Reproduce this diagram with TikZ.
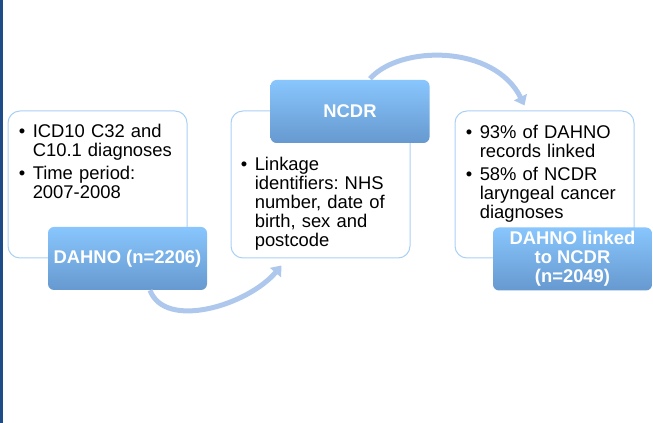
\documentclass[tikz,border=0pt]{standalone}
\usepackage{fontspec}
\setmainfont{Liberation Sans}
\usetikzlibrary{arrows.meta}

\definecolor{boxline}{HTML}{A9D0F5}
\definecolor{labeltop}{HTML}{88C6FD}
\definecolor{labelbottom}{HTML}{6699CF}
\definecolor{arrowblue}{HTML}{ADC8EC}
\definecolor{sideline}{HTML}{1D4C88}

\newcommand\listitem[1]{\leftskip=10.5pt\rightskip=0pt plus 1fil\parindent=0pt
  \noindent\llap{\hbox to 10.5pt{\textbullet\hfil}}#1\par}
\newcommand\itemgap{\vspace{3.5pt}}
\newcommand\listfont{\fontsize{13.8}{14.25}\selectfont\frenchspacing}

\tikzset{
  infobox/.style={draw=boxline, line width=0.75pt, fill=white, rounded corners=9pt,
    minimum width=134.25pt, minimum height=110.25pt, inner sep=0pt},
  labelbox/.style={rounded corners=4.5pt, top color=labeltop, bottom color=labelbottom,
    text=white, font=\fontsize{13.8}{14.25}\selectfont\bfseries, align=center,
    minimum width=119.25pt, minimum height=47.25pt, inner sep=0pt},
  listtext/.style={anchor=north west, inner sep=0pt, text width=125pt, font=\listfont},
  linkarrow/.style={draw=arrowblue, line width=3.75pt, -{Triangle[width=10.5pt,length=7pt]}},
}

\begin{document}
\begin{tikzpicture}[x=0.75pt, y=-0.75pt]
\useasboundingbox (0,0) rectangle (653,423);
\draw [sideline, line width=1.5pt] (1.5,0) -- (1.5,423);

% white boxes
\node[infobox] (dahnoinfo) at (97.5,184.5) {};
\node[infobox] (ncdrinfo) at (320.5,184.5) {};
\node[infobox] (linkinfo) at (544.5,184.5) {};

% bullet texts
\node[listtext] (dahnotext) at ([shift={(11,13)}]dahnoinfo.north west)
  {\listitem{ICD10 C32 and\newline C10.1 diagnoses}\itemgap\listitem{Time period:\newline 2007-2008}};
\node[listtext] (ncdrtext) at ([shift={(10,46)}]ncdrinfo.north west)
  {\listitem{Linkage\newline identifiers: NHS\newline number, date of\newline birth, sex and\newline postcode}};
\node[listtext] (linktext) at ([shift={(11,14)}]linkinfo.north west)
  {\listitem{93\% of DAHNO\newline records linked}\itemgap\listitem{58\% of NCDR\newline laryngeal cancer\newline diagnoses}};

% blue labels
\node[labelbox] (dahnolabel) at ([shift={(30,74)}]dahnoinfo.center) {DAHNO (n=2206)};
\node[labelbox] (ncdrlabel) at ([shift={(29.5,-73)}]ncdrinfo.center) {NCDR};
\node[labelbox] (linklabel) at ([shift={(28,74.5)}]linkinfo.center) {DAHNO linked\\to NCDR\\(n=2049)};

% arrows
\draw[linkarrow] ([shift={(22.5,0)}]dahnolabel.south) .. controls +(15,40) and +(-34,40) .. ([shift={(51,7)}]ncdrinfo.south west);
\draw[linkarrow] ([shift={(20,-1)}]ncdrlabel.north) .. controls +(30,-34) and +(-30,-61) .. ([shift={(70,-5)}]linkinfo.north west);
\end{tikzpicture}
\end{document}
